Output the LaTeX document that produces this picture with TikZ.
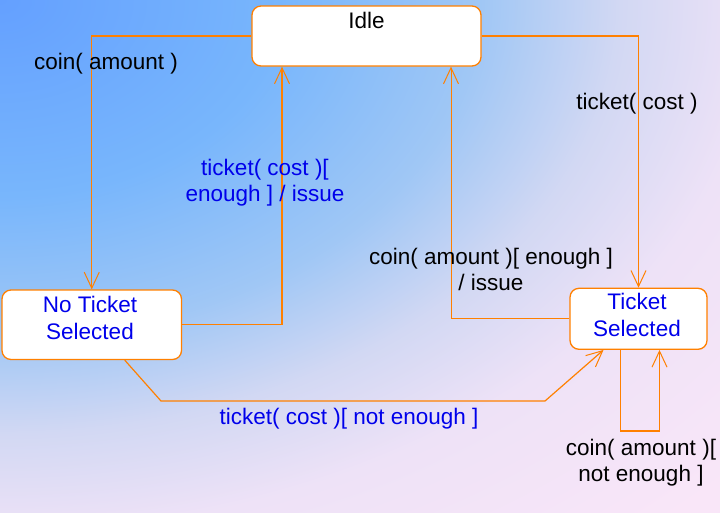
\documentclass[tikz,border=0pt]{standalone}
\usepackage{fontspec}
\setmainfont{Liberation Sans}
\usetikzlibrary{arrows.meta}
\definecolor{bgA}{RGB}{100,160,255}
\definecolor{bgB}{RGB}{120,182,252}
\definecolor{bgC}{RGB}{160,199,245}
\definecolor{bgD}{RGB}{210,216,243}
\definecolor{bgF}{RGB}{238,226,247}
\definecolor{bgE}{RGB}{249,230,248}
\definecolor{orng}{RGB}{255,128,0}
\definecolor{txtblue}{RGB}{0,0,235}
\pgfdeclareradialshading{bgshade}{\pgfpoint{0bp}{0bp}}{color(0bp)=(bgA); color(7bp)=(bgB); color(12bp)=(bgC); color(15.5bp)=(bgD); color(19bp)=(bgF); color(25bp)=(bgE); color(50bp)=(bgE)}
\tikzset{
  statebox/.style={draw=orng, line width=1.3pt, fill=white, rounded corners=9pt, inner sep=0pt},
  trans/.style={draw=orng, line width=1.2pt, -{Straight Barb[length=16pt,width=15pt,line width=1pt]}},
  lbl/.style={anchor=base, inner sep=0pt, align=center},
  bluelbl/.style={lbl, text=txtblue}
}
\begin{document}
\begin{tikzpicture}[x=1pt, y=-1pt, font=\fontsize{22.5}{26.5}\selectfont]
\useasboundingbox (0,0) rectangle (720,512);
\begin{scope}
  \clip (0,0) rectangle (720,512);
  \shade[shading=bgshade] (-1000,-700) rectangle (1000,700);
\end{scope}
% states
\node[statebox, minimum width=229pt, minimum height=60pt] (idle) at (366.5,36) {};
\node[statebox, minimum width=179.5pt, minimum height=69.5pt] (nts) at (91.75,324.75) {};
\node[statebox, minimum width=137pt, minimum height=61pt] (ts) at (638.5,318.8) {};
% transitions
\draw[trans] (idle.west) -| (nts.north);
\draw[trans] (idle.east) -| (ts.north);
\draw[trans] (nts.east) -| ([xshift=-84.5pt]idle.south);
\draw[trans, line width=1pt] (ts.west) -| ([xshift=84.5pt]idle.south);
\coordinate (c1) at (161,401);
\coordinate (c2) at (545,401);
\draw[trans] ([xshift=33pt]nts.south) -- (c1) -- (c2) -- ([xshift=-35pt]ts.south);
\coordinate (c3) at (620.5,431);
\coordinate (c4) at (659.5,431);
\draw[trans] ([xshift=-18pt]ts.south) -- (c3) -- (c4) -- ([xshift=21pt]ts.south);
% state texts
\node[lbl] (idlet) at (366.5,28) {Idle};
\node[bluelbl] (ntst) at (90,339.3) {No Ticket\\Selected};
\node[bluelbl] (tst) at (637,336) {Ticket\\Selected};
% labels
\node[lbl] (l1) at (106,69) {coin( amount )};
\node[lbl] (l2) at (637,109) {ticket( cost )};
\node[bluelbl] (l3) at (265,201.7) {ticket( cost )[\\enough ] / issue};
\node[lbl] (l4) at (491,290.7) {coin( amount )[ enough ]\\/ issue};
\node[bluelbl] (l5) at (349,424) {ticket( cost )[ not enough ]};
\node[lbl] (l6) at (641,481.7) {coin( amount )[\\not enough ]};
\end{tikzpicture}
\end{document}
